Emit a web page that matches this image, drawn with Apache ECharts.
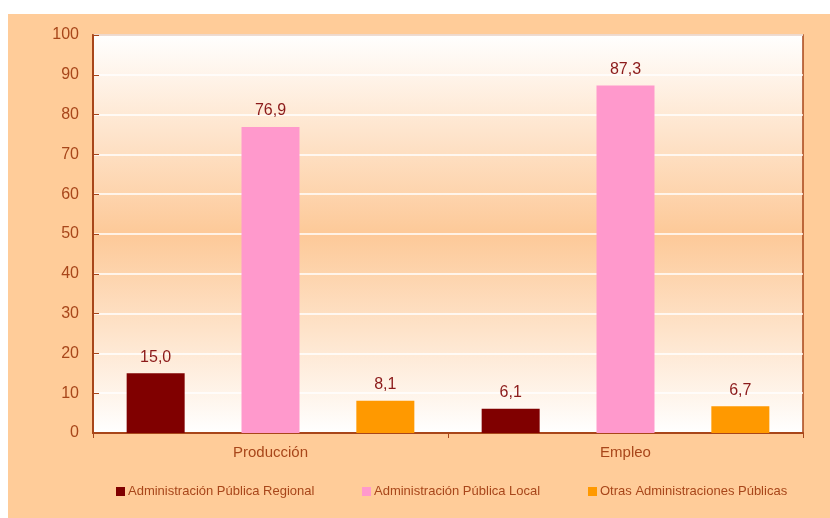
<!DOCTYPE html>
<html><head><meta charset="utf-8">
<script src="https://cdn.jsdelivr.net/npm/echarts@6/dist/echarts.min.js"></script>
<style>html,body{margin:0;padding:0;background:#fff}#c{width:830px;height:518px}</style>
</head><body><div id="c"></div>
<script>
const categories = ['Producción', 'Empleo'];
const seriesNames = ['Administración Pública Regional', 'Administración Pública Local', 'Otras Administraciones Públicas'];
const regional = [15.0, 6.1];
const local = [76.9, 87.3];
const otras = [8.1, 6.7];
const yTicks = [0, 10, 20, 30, 40, 50, 60, 70, 80, 90, 100];

const colors = ['#800000', '#FF99CC', '#FF9900'];
const brown = '#A8461A';
const font = 'Liberation Sans, Arial, sans-serif';
const chart = echarts.init(document.getElementById('c'));
const fmt = p => p.value.toFixed(1).replace('.', ',');
function mk(name, data, color) {
  return {
    name, type: 'bar', data, barWidth: 58, barGap: '98%', barCategoryGap: '19%',
    itemStyle: { color },
    label: { show: true, position: 'top', distance: 8, formatter: fmt, color: '#8B1A1A', fontSize: 16, fontFamily: font }
  };
}
function leg(name, left) {
  return {
    data: [name], left, top: 485, padding: 0, itemWidth: 9, itemHeight: 9, itemGap: 0,
    icon: 'rect', textStyle: { color: brown, fontSize: 13, fontFamily: font, padding: [0, 0, 0, -2] }
  };
}
chart.setOption({
  animation: false,
  graphic: [{ type: 'rect', shape: { x: 8, y: 14, width: 822, height: 504 }, style: { fill: '#FFCC99' }, z: -10, silent: true }],
  grid: {
    left: 93, top: 35, right: 27, bottom: 85, show: true,
    backgroundColor: new echarts.graphic.LinearGradient(0, 0, 0, 1, [
      { offset: 0, color: '#FFFFFF' }, { offset: 0.5, color: '#FDC998' }, { offset: 1, color: '#FFFFFF' }
    ]),
    borderColor: brown, borderWidth: 1.5
  },
  legend: [leg(seriesNames[0], 116), leg(seriesNames[1], 362), leg(seriesNames[2], 588)],
  xAxis: {
    type: 'category', data: categories,
    axisLine: { lineStyle: { color: brown, width: 2 } },
    axisTick: { show: true, length: 5, lineStyle: { color: brown } },
    axisLabel: { color: brown, fontSize: 15, fontFamily: font, margin: 12 }
  },
  yAxis: {
    type: 'value', min: yTicks[0], max: yTicks[yTicks.length - 1], interval: 10,
    axisLine: { show: true, lineStyle: { color: brown, width: 2 } },
    axisTick: { show: true, inside: true, length: 6, lineStyle: { color: brown } },
    axisLabel: { color: brown, fontSize: 16, fontFamily: font, margin: 14 },
    splitLine: { lineStyle: { color: '#FFFFFF', width: 1.5 } }
  },
  series: [mk(seriesNames[0], regional, colors[0]), mk(seriesNames[1], local, colors[1]), mk(seriesNames[2], otras, colors[2])]
});
</script></body></html>
